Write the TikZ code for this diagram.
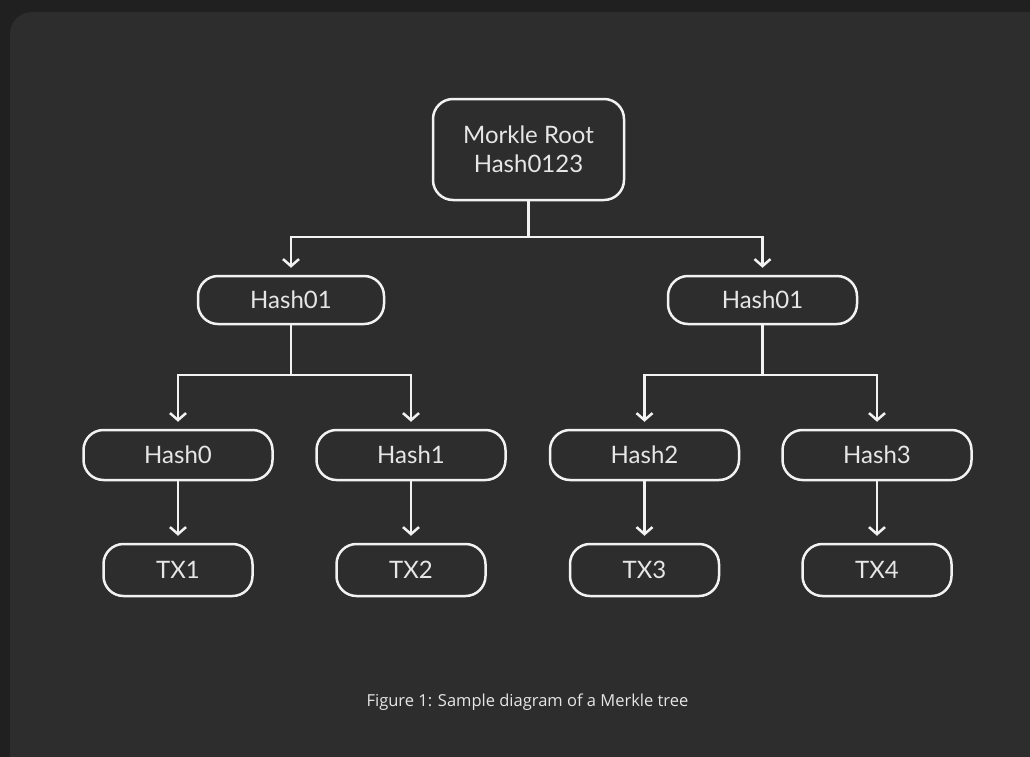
\documentclass[tikz,border=0pt]{standalone}
\usepackage{fontspec}
\setmainfont{Lato}
\newfontfamily\capfont{Open Sans}
\usetikzlibrary{arrows.meta}
\definecolor{outerbg}{HTML}{202020}
\definecolor{panelbg}{HTML}{2D2D2D}
\definecolor{ink}{HTML}{F2F2F2}
\definecolor{txt}{HTML}{E6E6E6}
\tikzset{
  box/.style={draw=ink, line width=2.5pt, rounded corners=20pt, text=txt,
    font=\fontsize{24}{29}\selectfont, inner sep=0pt, align=center},
  link/.style={draw=ink, line width=2.5pt, -{Straight Barb[length=7pt,width=16pt,line width=2.5pt]}},
  plain/.style={draw=ink, line width=2.5pt}
}
\begin{document}
\begin{tikzpicture}[x=1pt,y=-1pt]
\useasboundingbox (0,0) rectangle (1030,756);
\fill[outerbg] (-5,-5) rectangle (1035,761);
\fill[panelbg, rounded corners=22pt] (10,12) rectangle (1060,790);
% nodes
\node[box, minimum width=191pt, minimum height=101pt] (root) at (528.5,149.5) {Morkle Root\\Hash0123};
\node[box, minimum width=186pt, minimum height=48pt] (h01a) at (291,300) {Hash01};
\node[box, minimum width=189pt, minimum height=48pt] (h01b) at (762.5,300) {Hash01};
\node[box, minimum width=189pt, minimum height=50pt] (h0) at (178,455) {Hash0};
\node[box, minimum width=189pt, minimum height=50pt] (h1) at (411,455) {Hash1};
\node[box, minimum width=189pt, minimum height=50pt] (h2) at (644.5,455) {Hash2};
\node[box, minimum width=189pt, minimum height=50pt] (h3) at (877,455) {Hash3};
\node[box, minimum width=149pt, minimum height=52pt] (tx1) at (178,570) {TX1};
\node[box, minimum width=149pt, minimum height=52pt] (tx2) at (411,570) {TX2};
\node[box, minimum width=149pt, minimum height=52pt] (tx3) at (644.5,570) {TX3};
\node[box, minimum width=149pt, minimum height=52pt] (tx4) at (877,570) {TX4};
% junctions
\coordinate (j0) at (528.5,237);
\coordinate (j1) at (291,375);
\coordinate (j2) at (762.5,375);
% root to level 1
\draw[plain] (root.south) -- (j0);
\draw[link] (j0) -| ([yshift=7pt]h01a.north);
\draw[link] (j0) -| ([yshift=7pt]h01b.north);
% level 1 to level 2
\draw[plain] (h01a.south) -- (j1);
\draw[link] (j1) -| ([yshift=7pt]h0.north);
\draw[link] (j1) -| ([yshift=7pt]h1.north);
\draw[plain] (h01b.south) -- (j2);
\draw[link] (j2) -| ([yshift=7pt]h2.north);
\draw[link] (j2) -| ([yshift=7pt]h3.north);
% level 2 to tx
\draw[link] (h0.south) -- ([yshift=7pt]tx1.north);
\draw[link] (h1.south) -- ([yshift=7pt]tx2.north);
\draw[link] (h2.south) -- ([yshift=7pt]tx3.north);
\draw[link] (h3.south) -- ([yshift=7pt]tx4.north);
% caption
\node[text=txt, font=\capfont\fontsize{16.5}{20}\selectfont] (cap) at (527.5,702) {Figure 1: Sample diagram of a Merkle tree};
\end{tikzpicture}
\end{document}
